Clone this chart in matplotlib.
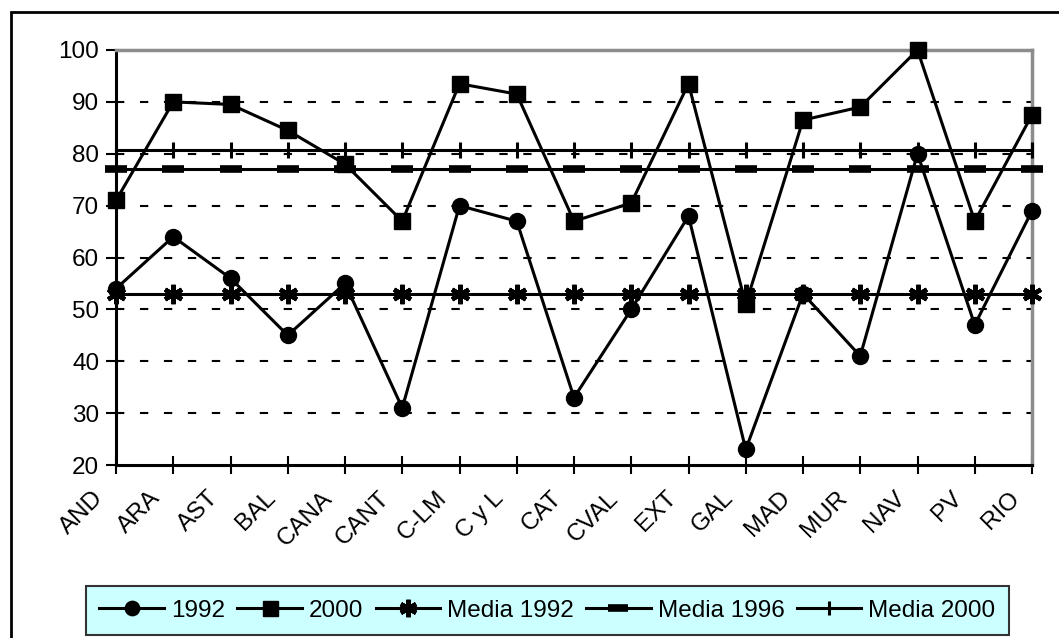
import matplotlib
matplotlib.use('Agg')
import numpy as np
import matplotlib.pyplot as plt
import matplotlib.transforms as mtransforms
from matplotlib.patches import Rectangle

plt.rcParams['font.family'] = ['Liberation Sans', 'DejaVu Sans']

regiones = ['AND', 'ARA', 'AST', 'BAL', 'CANA', 'CANT', 'C-LM', 'C y L', 'CAT',
            'CVAL', 'EXT', 'GAL', 'MAD', 'MUR', 'NAV', 'PV', 'RIO']
v1992 = [54, 64, 56, 45, 55, 31, 70, 67, 33, 50, 68, 23, 53, 41, 80, 47, 69]
v2000 = [71, 90, 89.5, 84.5, 78, 67, 93.5, 91.5, 67, 70.5, 93.5, 51, 86.5, 89, 100, 67, 87.5]
media1992 = 53
media1996 = 77
media2000 = 80.8

x = np.arange(len(regiones))

fig = plt.figure(figsize=(10.59, 6.38), dpi=100)
W, H = 1059, 638

# outer chart border
fig.patches.append(Rectangle((11 / W, -0.1), 1.2, (H - 12) / H + 0.1,
                             transform=fig.transFigure, fill=False,
                             edgecolor='black', linewidth=2))

ax = fig.add_axes([116 / W, (H - 465) / H, (1032 - 116) / W, (465 - 50) / H])

ax.set_xlim(0, len(regiones) - 1)
ax.set_ylim(20, 100)
ax.set_yticks(np.arange(20, 101, 10))
ax.set_xticks(x)

for yv in [30, 40, 50, 60, 70, 80, 90]:
    ax.axhline(yv, color='black', linewidth=1.5, dashes=(4, 7.5), zorder=1)

ax.plot(x, v1992, color='black', linewidth=2.2, marker='o', markersize=11.5,
        label='1992', zorder=5, clip_on=False)
ax.plot(x, v2000, color='black', linewidth=2.2, marker='s', markersize=12,
        label='2000', zorder=5, clip_on=False)
ax.plot(x, [media1992] * len(x), color='black', linewidth=2.2,
        marker=(6, 2, 0), markersize=14, markeredgewidth=3.2,
        label='Media 1992', zorder=4, clip_on=False)
ax.plot(x, [media1996] * len(x), color='black', linewidth=2.2,
        marker='_', markersize=16, markeredgewidth=5.5,
        label='Media 1996', zorder=4, clip_on=False)
ax.plot(x, [media2000] * len(x), color='black', linewidth=2.2,
        marker='|', markersize=11, markeredgewidth=2.2,
        label='Media 2000', zorder=4, clip_on=False)

for s in ['left', 'bottom']:
    ax.spines[s].set_linewidth(2.2)
    ax.spines[s].set_color('black')
for s in ['top', 'right']:
    ax.spines[s].set_linewidth(2.5)
    ax.spines[s].set_color('#8c8c8c')

ax.tick_params(axis='y', direction='out', length=7, width=1.5, labelsize=17.5, pad=5)
ax.tick_params(axis='x', direction='inout', length=13, width=1.5, labelsize=17.5, pad=15)

# rotated region labels, nudged left of their ticks
ax.set_xticklabels(regiones, rotation=45, ha='right', va='center',
                   rotation_mode='anchor')
shift = mtransforms.ScaledTranslation(-16 / 100, 0, fig.dpi_scale_trans)
for lab in ax.get_xticklabels():
    lab.set_transform(lab.get_transform() + shift)

leg = fig.legend(loc='center', bbox_to_anchor=(547.5 / W, (H - 610.5) / H),
                 bbox_transform=fig.transFigure, ncol=5, fontsize=17.5,
                 frameon=True, fancybox=False, handlelength=2.65,
                 handletextpad=0.3, columnspacing=0.5, borderpad=0.55,
                 markerscale=0.9)
leg.get_frame().set_facecolor('#ccffff')
leg.get_frame().set_edgecolor('#333333')
leg.get_frame().set_linewidth(1.5)
leg.get_frame().set_alpha(1)

fig.savefig('out.png', dpi=100)
